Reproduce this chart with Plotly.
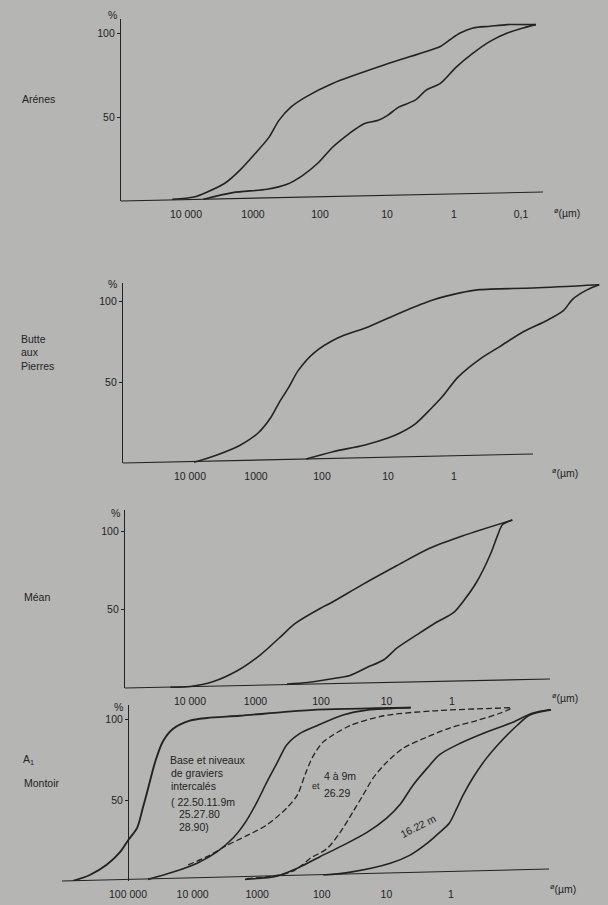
import plotly.graph_objects as go

# ---------------- data (diameter in µm, cumulative %) ----------------
# Panel 1 - Arénes
arenes_a_um = [16000, 7600, 5200, 2600, 1550, 910, 575, 410, 270, 162, 65, 11, 2.6, 1.6, 1.15, 0.81, 0.52, 0.29, 0.16, 0.06]
arenes_a_pct = [1, 2.4, 4.8, 10.7, 18.5, 28.6, 38, 48, 56, 62, 70, 81, 89, 92, 96, 100, 103, 104, 105, 105]
arenes_b_um = [5500, 2000, 620, 310, 185, 107, 65, 37, 22, 13.5, 9.8, 6.6, 3.8, 2.6, 1.6, 0.91, 0.52, 0.29, 0.16, 0.093, 0.06]
arenes_b_pct = [1, 5, 7, 10, 15, 22.6, 32, 40, 46, 48, 51, 56, 60, 66, 70, 80, 88, 95, 100, 103, 105]

# Panel 2 - Butte aux Pierres
butte_a_um = [8700, 3900, 1740, 930, 590, 450, 316, 230, 132, 59, 20, 6.6, 2.1, 0.81, 0.41, 0.063, 0.0063]
butte_a_pct = [0.5, 5, 11, 18.5, 28.4, 37, 47, 57, 68, 77, 84, 92.6, 100.6, 105, 107, 108, 110]
butte_b_um = [174, 68, 23, 10, 6.6, 3.9, 2.3, 1.5, 0.87, 0.41, 0.2, 0.089, 0.039, 0.022, 0.016, 0.0095, 0.0063]
butte_b_pct = [2.5, 7, 11, 15.4, 18.5, 24, 33, 41, 53, 64, 72, 81, 88, 94, 101, 107, 110]

# Panel 3 - Méan
mean_a_um = [20000, 10000, 4500, 1900, 850, 430, 250, 100, 72, 23, 6.9, 2.2, 0.68, 0.12]
mean_a_pct = [0.5, 1, 4, 11, 21, 32, 41, 51, 54, 66, 78, 89, 97, 107]
mean_b_um = [330, 160, 72, 36, 20, 11, 6.9, 3.4, 1.7, 0.95, 0.68, 0.42, 0.26, 0.2, 0.17, 0.12]
mean_b_pct = [2.5, 3.5, 5.7, 8, 13, 18, 25.5, 34, 42, 48, 55, 67.5, 85, 97.5, 104, 107]

# Panel 4 - A1 Montoir
base_um = [710000, 390000, 214000, 132000, 100000, 72000, 59000, 49000, 38000, 29000, 20000, 11000, 6000, 1860, 150, 4.2]
base_pct = [0, 3.7, 10, 18, 25, 33, 45, 57, 73.5, 86, 94, 99, 100.6, 102, 105.5, 107]
grav_um = [49000, 20000, 8500, 4200, 2300, 1450, 1000, 710, 490, 350, 220, 117, 47, 20, 4.2]
grav_pct = [1, 5.5, 11, 18, 27, 37.6, 49, 61, 73, 84, 91, 96, 102.5, 105.5, 107]
m49a_um = [11700, 6000, 2950, 1450, 710, 350, 240, 180, 141, 100, 68, 36, 11, 1.9, 0.11]
m49a_pct = [10, 15, 22, 28, 34.6, 45, 53, 66, 76, 85, 90, 96, 102, 105, 107]
m49b_um = [1450, 560, 280, 200, 151, 83, 52, 33, 23, 16, 9.8, 5.5, 2.3, 1.05, 0.4, 0.17, 0.11]
m49b_pct = [1.5, 3, 6, 10, 14, 20, 30, 42.6, 53, 63.6, 73.5, 82, 89, 94.4, 99, 103.7, 107]
m1622a_um = [1550, 500, 220, 107, 47, 20, 9.8, 6.2, 3.9, 2.3, 1.5, 0.72, 0.28, 0.11, 0.054, 0.017]
m1622a_pct = [1, 3, 8.6, 15, 22, 30, 39, 47, 59, 70, 78, 85, 92, 98, 103.7, 107]
m1622b_um = [95, 36, 8.7, 4.3, 2.3, 1.5, 1.05, 0.81, 0.65, 0.46, 0.28, 0.17, 0.095, 0.06, 0.017]
m1622b_pct = [3.7, 5.5, 11, 16, 23.5, 30, 36, 45, 53, 63.6, 76, 86, 96, 102.5, 107]

# ticks
y_tickvals = [50, 100]
y_ticktext = ["50", "100"]
x1_tickvals = [10000, 1000, 100, 10, 1, 0.1]
x1_ticktext = ["10 000", "1000", "100", "10", "1", "0,1"]
x23_tickvals = [10000, 1000, 100, 10, 1]
x23_ticktext = ["10 000", "1000", "100", "10", "1"]
x4_tickvals = [100000, 10000, 1000, 100, 10, 1]
x4_ticktext = ["100 000", "10 000", "1000", "100", "10", "1"]

# ---------------- style ----------------
W, H = 608, 905
BG = "#b5b5b3"
INK = "#232323"
FONT = "Liberation Sans"
FS = 10.5


def fx(px):
    return px / W


def fy(py):
    return 1 - py / H


fig = go.Figure()


def curve(x, y, ax, dash="solid", width=1.6):
    fig.add_trace(go.Scatter(
        x=x, y=y, xaxis="x" + ax, yaxis="y" + ax, mode="lines",
        line=dict(color=INK, width=width, dash=dash, shape="spline", smoothing=0.8),
        hoverinfo="skip", showlegend=False))


curve(arenes_a_um, arenes_a_pct, "")
curve(arenes_b_um, arenes_b_pct, "")
curve(butte_a_um, butte_a_pct, "2")
curve(butte_b_um, butte_b_pct, "2")
curve(mean_a_um, mean_a_pct, "3")
curve(mean_b_um, mean_b_pct, "3")
curve(base_um, base_pct, "4", width=1.9)
curve(grav_um, grav_pct, "4")
curve(m49a_um, m49a_pct, "4", dash="6px,3px", width=1.3)
curve(m49b_um, m49b_pct, "4", dash="6px,3px", width=1.3)
curve(m1622a_um, m1622a_pct, "4")
curve(m1622b_um, m1622b_pct, "4")

# panel geometry in pixels
panels = [
    dict(xl=121, xr=545, yt=19, yb=201, ref_px=186, ref_log=4, dec=67, pct=1.68,
         tv=x1_tickvals, tt=x1_ticktext, axis_end=543, tilt=9),
    dict(xl=123, xr=602, yt=283, yb=463, ref_px=190, ref_log=4, dec=66, pct=1.62,
         tv=x23_tickvals, tt=x23_ticktext, axis_end=533, tilt=9),
    dict(xl=125, xr=552, yt=510, yb=688, ref_px=190, ref_log=4, dec=65.5, pct=1.57,
         tv=x23_tickvals, tt=x23_ticktext, axis_end=550, tilt=9),
    dict(xl=62, xr=551, yt=705, yb=881, ref_px=128, ref_log=5, dec=64.6, pct=1.62,
         tv=x4_tickvals, tt=x4_ticktext, axis_end=549, tilt=12, yaxis_px=128),
]

tickfont = dict(family=FONT, size=FS, color=INK)
shapes = []
for i, p in enumerate(panels):
    sfx = "" if i == 0 else str(i + 1)
    xr0 = p["ref_log"] + (p["ref_px"] - p["xl"]) / p["dec"]
    xr1 = p["ref_log"] - (p["xr"] - p["ref_px"]) / p["dec"]
    ytop = (p["yb"] - p["yt"]) / p["pct"]
    xa = dict(type="log", domain=[fx(p["xl"]), fx(p["xr"])], range=[xr0, xr1],
              anchor="y" + sfx, showline=False, showgrid=False, zeroline=False,
              tickmode="array", tickvals=p["tv"], ticktext=p["tt"],
              ticks="outside", ticklen=3, tickcolor="rgba(0,0,0,0)",
              tickfont=tickfont, fixedrange=True)
    ya = dict(domain=[fy(p["yb"]), fy(p["yt"])], range=[0, ytop],
              showline=True, linecolor=INK, linewidth=1.1, showgrid=False, zeroline=False,
              tickmode="array", tickvals=y_tickvals, ticktext=y_ticktext,
              ticks="outside", ticklen=3, tickwidth=1, tickcolor=INK,
              tickfont=tickfont, fixedrange=True)
    if "yaxis_px" in p:
        ya.update(anchor="free", position=fx(p["yaxis_px"]))
    else:
        ya.update(anchor="x" + sfx)
    fig.update_layout(**{"xaxis" + sfx: xa, "yaxis" + sfx: ya})
    # slightly slanted base line (scanned page)
    shapes.append(dict(type="line", xref="x" + sfx + " domain", yref="y" + sfx + " domain",
                       x0=0, y0=0,
                       x1=(p["axis_end"] - p["xl"]) / (p["xr"] - p["xl"]),
                       y1=p["tilt"] / (p["yb"] - p["yt"]),
                       line=dict(color=INK, width=1.1)))

annots = []


def txt(s, x, y, size=FS, xanchor="left", angle=0):
    annots.append(dict(text=s, x=fx(x), y=fy(y), xref="paper", yref="paper",
                       xanchor=xanchor, yanchor="middle", showarrow=False, textangle=angle,
                       font=dict(family=FONT, size=size, color=INK)))


# % labels
for (x, y) in [(112, 15), (112, 284), (115, 513), (118, 707)]:
    txt("%", x, y, xanchor="center")
# diameter labels
for (x, y) in [(552, 212), (550, 472), (550, 697), (548, 888)]:
    txt("<sup>ø</sup>(µm)", x, y)

# panel names
txt("Arénes", 20, 99)
txt("Butte", 19, 339)
txt("aux", 19, 352)
txt("Pierres", 19, 366)
txt("Méan", 22, 597)
txt("A<sub>1</sub>", 21, 760)
txt("Montoir", 22, 783)

# curve labels in panel 4
txt("Base et niveaux", 168, 760)
txt("de graviers", 169, 773)
txt("intercalés", 169, 786)
txt("( 22.50.11.9m", 169, 802)
txt("25.27.80", 177, 814)
txt("28.90)", 177, 827)
txt("4 à 9m", 322, 776)
txt("et", 310, 786, size=9)
txt("26.29", 322, 793)
txt("16.22 m", 418, 826, xanchor="center", angle=-27)

fig.update_layout(width=W, height=H, margin=dict(l=0, r=0, t=0, b=0),
                  paper_bgcolor=BG, plot_bgcolor=BG,
                  shapes=shapes, annotations=annots, showlegend=False,
                  font=dict(family=FONT, color=INK, size=FS))

fig.write_html("out.html", config={"displayModeBar": False, "staticPlot": True},
               post_script="document.body.style.margin='0';document.body.style.background='%s';" % BG)
